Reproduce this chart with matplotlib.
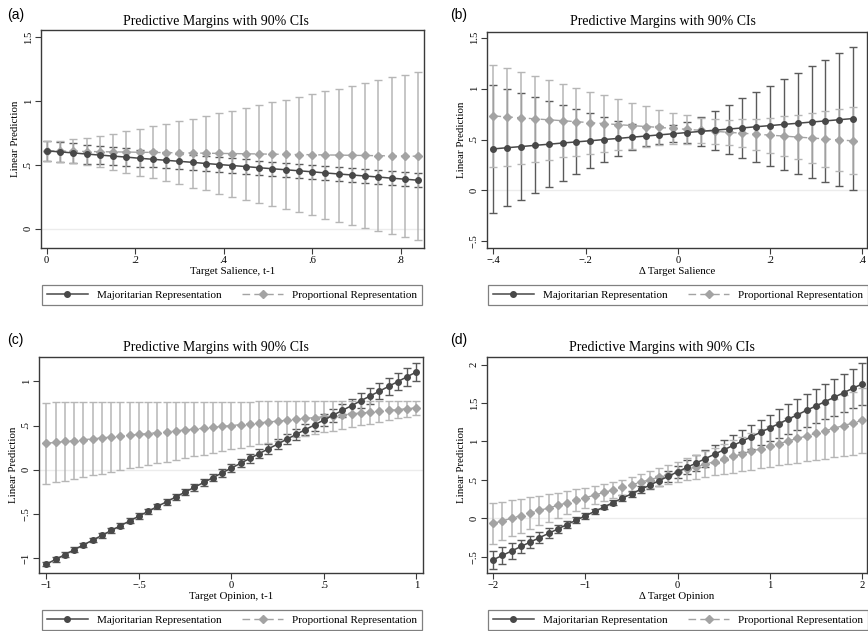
import matplotlib
matplotlib.use("Agg")
import matplotlib.pyplot as plt
from matplotlib.lines import Line2D

plt.rcParams['font.family'] = ['Liberation Serif', 'DejaVu Serif']

# ---------------- data ----------------
# (a) Target Salience, t-1
a_x = [0.00, 0.03, 0.06, 0.09, 0.12, 0.15, 0.18, 0.21, 0.24, 0.27, 0.30, 0.33, 0.36, 0.39, 0.42,
       0.45, 0.48, 0.51, 0.54, 0.57, 0.60, 0.63, 0.66, 0.69, 0.72, 0.75, 0.78, 0.81, 0.84]
a_maj = [0.610, 0.602, 0.594, 0.585, 0.577, 0.569, 0.561, 0.552, 0.544, 0.536, 0.528, 0.520, 0.511, 0.503, 0.495,
         0.487, 0.478, 0.470, 0.462, 0.454, 0.446, 0.437, 0.429, 0.421, 0.413, 0.405, 0.396, 0.388, 0.380]
a_maj_ci = [0.080, 0.078, 0.076, 0.074, 0.072, 0.070, 0.068, 0.066, 0.064, 0.062, 0.061, 0.060, 0.059, 0.058, 0.057,
            0.056, 0.055, 0.055, 0.054, 0.054, 0.054, 0.054, 0.054, 0.054, 0.055, 0.055, 0.055, 0.056, 0.056]
a_pr = [0.610, 0.608, 0.607, 0.605, 0.604, 0.602, 0.601, 0.599, 0.598, 0.596, 0.595, 0.593, 0.592, 0.590, 0.589,
        0.587, 0.586, 0.584, 0.583, 0.581, 0.580, 0.578, 0.577, 0.575, 0.574, 0.572, 0.571, 0.569, 0.568]
a_pr_ci = [0.080, 0.083, 0.093, 0.106, 0.123, 0.142, 0.162, 0.182, 0.204, 0.225, 0.247, 0.270, 0.292, 0.315, 0.337,
           0.360, 0.383, 0.406, 0.429, 0.452, 0.475, 0.498, 0.521, 0.544, 0.567, 0.590, 0.614, 0.637, 0.660]

# (b) Δ Target Salience
b_x = [-0.40, -0.37, -0.34, -0.31, -0.28, -0.25, -0.22, -0.19, -0.16, -0.13, -0.10, -0.07, -0.04, -0.01,
       0.02, 0.05, 0.08, 0.11, 0.14, 0.17, 0.20, 0.23, 0.26, 0.29, 0.32, 0.35, 0.38]
b_maj = [0.408, 0.420, 0.431, 0.443, 0.454, 0.466, 0.477, 0.488, 0.500, 0.511, 0.523, 0.534, 0.546, 0.557,
         0.569, 0.580, 0.592, 0.603, 0.614, 0.626, 0.637, 0.649, 0.660, 0.672, 0.683, 0.695, 0.706]
b_maj_ci = [0.625, 0.577, 0.525, 0.470, 0.420, 0.375, 0.320, 0.272, 0.225, 0.175, 0.130, 0.100, 0.088, 0.085,
            0.106, 0.146, 0.192, 0.241, 0.291, 0.342, 0.393, 0.445, 0.496, 0.548, 0.600, 0.652, 0.705]
b_pr = [0.732, 0.722, 0.713, 0.703, 0.694, 0.685, 0.675, 0.666, 0.656, 0.647, 0.637, 0.628, 0.619, 0.609,
        0.600, 0.590, 0.581, 0.571, 0.562, 0.553, 0.543, 0.534, 0.524, 0.515, 0.506, 0.496, 0.487]
b_pr_ci = [0.500, 0.480, 0.450, 0.420, 0.390, 0.360, 0.335, 0.305, 0.280, 0.250, 0.226, 0.200, 0.175, 0.150,
           0.140, 0.124, 0.120, 0.124, 0.135, 0.151, 0.171, 0.194, 0.219, 0.246, 0.273, 0.300, 0.329]

# (c) Target Opinion, t-1
c_x = [-1.00, -0.95, -0.90, -0.85, -0.80, -0.75, -0.70, -0.65, -0.60, -0.55, -0.50, -0.45, -0.40, -0.35,
       -0.30, -0.25, -0.20, -0.15, -0.10, -0.05, 0.00, 0.05, 0.10, 0.15, 0.20, 0.25, 0.30, 0.35, 0.40,
       0.45, 0.50, 0.55, 0.60, 0.65, 0.70, 0.75, 0.80, 0.85, 0.90, 0.95, 1.00]
c_maj = [-1.065, -1.011, -0.957, -0.902, -0.848, -0.794, -0.740, -0.685, -0.631, -0.577, -0.523, -0.468,
         -0.414, -0.360, -0.306, -0.251, -0.197, -0.143, -0.089, -0.034, 0.020, 0.074, 0.129, 0.183, 0.237,
         0.291, 0.346, 0.400, 0.454, 0.508, 0.563, 0.617, 0.671, 0.725, 0.780, 0.834, 0.888, 0.942, 0.997,
         1.051, 1.105]
c_maj_ci = [0.025, 0.025, 0.025, 0.026, 0.026, 0.026, 0.027, 0.028, 0.028, 0.029, 0.030, 0.031, 0.032, 0.034,
            0.035, 0.036, 0.038, 0.040, 0.041, 0.043, 0.045, 0.047, 0.049, 0.052, 0.054, 0.056, 0.059, 0.062,
            0.064, 0.067, 0.070, 0.073, 0.076, 0.080, 0.083, 0.086, 0.090, 0.094, 0.097, 0.101, 0.105]
c_pr = [0.30, 0.31, 0.32, 0.33, 0.34, 0.35, 0.36, 0.37, 0.38, 0.39, 0.40, 0.41, 0.42, 0.43, 0.44, 0.45,
        0.46, 0.47, 0.48, 0.49, 0.50, 0.51, 0.52, 0.53, 0.54, 0.55, 0.56, 0.57, 0.58, 0.59, 0.60, 0.61,
        0.62, 0.63, 0.64, 0.65, 0.66, 0.67, 0.68, 0.69, 0.70]
c_pr_ci = [0.460, 0.451, 0.441, 0.432, 0.422, 0.413, 0.403, 0.394, 0.384, 0.375, 0.365, 0.356, 0.346, 0.337,
           0.327, 0.318, 0.308, 0.299, 0.289, 0.280, 0.270, 0.261, 0.251, 0.242, 0.232, 0.223, 0.213, 0.204,
           0.194, 0.185, 0.175, 0.166, 0.156, 0.147, 0.137, 0.128, 0.118, 0.109, 0.099, 0.090, 0.080]

# (d) Δ Target Opinion
d_x = [-2.0, -1.9, -1.8, -1.7, -1.6, -1.5, -1.4, -1.3, -1.2, -1.1, -1.0, -0.9, -0.8, -0.7, -0.6, -0.5,
       -0.4, -0.3, -0.2, -0.1, 0.0, 0.1, 0.2, 0.3, 0.4, 0.5, 0.6, 0.7, 0.8, 0.9, 1.0, 1.1, 1.2, 1.3, 1.4,
       1.5, 1.6, 1.7, 1.8, 1.9, 2.0]
d_maj = [-0.539, -0.482, -0.425, -0.367, -0.310, -0.253, -0.196, -0.139, -0.081, -0.024, 0.033, 0.090,
         0.147, 0.205, 0.262, 0.319, 0.376, 0.433, 0.491, 0.548, 0.605, 0.662, 0.719, 0.777, 0.834, 0.891,
         0.948, 1.005, 1.063, 1.120, 1.177, 1.234, 1.291, 1.349, 1.406, 1.463, 1.520, 1.577, 1.635, 1.692, 1.749]
d_maj_ci = [0.118, 0.109, 0.100, 0.091, 0.082, 0.073, 0.064, 0.056, 0.048, 0.041, 0.036, 0.032, 0.030, 0.032,
            0.036, 0.041, 0.048, 0.056, 0.064, 0.073, 0.082, 0.091, 0.100, 0.109, 0.118, 0.127, 0.136, 0.146,
            0.155, 0.164, 0.174, 0.183, 0.192, 0.202, 0.211, 0.221, 0.230, 0.239, 0.249, 0.258, 0.268]
d_pr = [-0.066, -0.033, 0.001, 0.035, 0.068, 0.102, 0.135, 0.168, 0.202, 0.236, 0.269, 0.302, 0.336, 0.370,
        0.403, 0.436, 0.470, 0.504, 0.537, 0.570, 0.604, 0.638, 0.671, 0.704, 0.738, 0.772, 0.805, 0.838,
        0.872, 0.906, 0.939, 0.972, 1.006, 1.040, 1.073, 1.106, 1.140, 1.174, 1.207, 1.240, 1.274]
d_pr_ci = [0.266, 0.250, 0.235, 0.220, 0.206, 0.192, 0.178, 0.164, 0.152, 0.140, 0.129, 0.119, 0.111, 0.105,
           0.101, 0.100, 0.102, 0.106, 0.112, 0.121, 0.131, 0.142, 0.154, 0.167, 0.180, 0.195, 0.209, 0.224,
           0.238, 0.253, 0.268, 0.284, 0.299, 0.315, 0.331, 0.346, 0.362, 0.378, 0.394, 0.410, 0.426]

# tick labels
a_xticks = [0, 0.2, 0.4, 0.6, 0.8]
a_xlabels = ['0', '.2', '.4', '.6', '.8']
a_yticks = [0, 0.5, 1, 1.5]
a_ylabels = ['0', '.5', '1', '1.5']
b_xticks = [-0.4, -0.2, 0, 0.2, 0.4]
b_xlabels = ['\u2212.4', '\u2212.2', '0', '.2', '.4']
b_yticks = [-0.5, 0, 0.5, 1, 1.5]
b_ylabels = ['\u2212.5', '0', '.5', '1', '1.5']
c_xticks = [-1, -0.5, 0, 0.5, 1]
c_xlabels = ['\u22121', '\u2212.5', '0', '.5', '1']
c_yticks = [-1, -0.5, 0, 0.5, 1]
c_ylabels = ['\u22121', '\u2212.5', '0', '.5', '1']
d_xticks = [-2, -1, 0, 1, 2]
d_xlabels = ['\u22122', '\u22121', '0', '1', '2']
d_yticks = [-0.5, 0, 0.5, 1, 1.5, 2]
d_ylabels = ['\u2212.5', '0', '.5', '1', '1.5', '2']

TITLE = 'Predictive Margins with 90% CIs'
MAJ_LABEL = 'Majoritarian Representation'
PR_LABEL = 'Proportional Representation'

# ---------------- style ----------------
MAJ_COL = '#484848'
MAJ_CI = '#5a5a5a'
PR_COL = '#a3a3a3'
PR_CI = '#b6b6b6'
FRAME = '#3a3a3a'
DASH = (0, (5.5, 3))

W, H = 868, 631
fig = plt.figure(figsize=(W / 100, H / 100), dpi=100)


def px_axes(x0, x1, y0, y1):
    return fig.add_axes([x0 / W, 1 - y1 / H, (x1 - x0) / W, (y1 - y0) / H])


def panel(ax, x, maj, maj_ci, pr, pr_ci, xlim, ylim, xt, xl, yt, yl, xlabel):
    ax.axhline(0, color='#ececec', lw=1.0, zorder=0)
    ax.errorbar(x, maj, yerr=maj_ci, fmt='none', ecolor=MAJ_CI, elinewidth=1.0,
                capsize=2.7, capthick=1.0, zorder=2)
    ax.errorbar(x, pr, yerr=pr_ci, fmt='none', ecolor=PR_CI, elinewidth=1.1,
                capsize=2.7, capthick=1.0, zorder=2)
    ax.plot(x, maj, color=MAJ_COL, lw=1.1, marker='o', ms=4.0, mfc=MAJ_COL, mec=MAJ_COL, zorder=4)
    ax.plot(x, pr, color=PR_COL, lw=1.0, ls=DASH, marker='D', ms=4.0, mfc=PR_COL, mec=PR_COL, zorder=3)
    ax.set_xlim(*xlim)
    ax.set_ylim(*ylim)
    ax.set_xticks(xt)
    ax.set_xticklabels(xl)
    ax.set_yticks(yt)
    ax.set_yticklabels(yl, rotation=90, va='center')
    ax.tick_params(direction='out', length=4, width=0.8, color=FRAME, labelsize=7.6, pad=1.5)
    ax.tick_params(axis='y', pad=2)
    for s in ax.spines.values():
        s.set_color(FRAME)
        s.set_linewidth(1.0)
    ax.set_xlabel(xlabel, fontsize=7.8, labelpad=2)
    ax.set_ylabel('Linear Prediction', fontsize=7.8, labelpad=2.5)


def legend(ax, cx, cy):
    handles = [Line2D([], [], color=MAJ_COL, lw=1.1, marker='o', ms=4.0),
               Line2D([], [], color=PR_COL, lw=1.0, ls=DASH, marker='D', ms=4.0)]
    leg = ax.legend(handles, [MAJ_LABEL, PR_LABEL], loc='center', bbox_to_anchor=(cx / W, 1 - cy / H),
                    bbox_transform=fig.transFigure, ncol=2, fontsize=8, handlelength=3.7,
                    handletextpad=0.8, columnspacing=1.9, borderpad=0.45, fancybox=False,
                    framealpha=1, edgecolor='#808080', numpoints=1)
    leg.get_frame().set_linewidth(0.9)


axa = px_axes(41, 424, 30, 248)
panel(axa, a_x, a_maj, a_maj_ci, a_pr, a_pr_ci, (-0.013, 0.853), (-0.151, 1.557),
      a_xticks, a_xlabels, a_yticks, a_ylabels, 'Target Salience, t-1')
axb = px_axes(487, 867, 32, 248)
panel(axb, b_x, b_maj, b_maj_ci, b_pr, b_pr_ci, (-0.414, 0.41), (-0.565, 1.556),
      b_xticks, b_xlabels, b_yticks, b_ylabels, '\u0394 Target Salience')
axc = px_axes(39, 423, 357, 573)
panel(axc, c_x, c_maj, c_maj_ci, c_pr, c_pr_ci, (-1.04, 1.036), (-1.165, 1.274),
      c_xticks, c_xlabels, c_yticks, c_ylabels, 'Target Opinion, t-1')
axd = px_axes(487, 867, 357, 573)
panel(axd, d_x, d_maj, d_maj_ci, d_pr, d_pr_ci, (-2.068, 2.054), (-0.712, 2.1),
      d_xticks, d_xlabels, d_yticks, d_ylabels, '\u0394 Target Opinion')

legend(axa, 232, 295)
legend(axb, 678, 295)
legend(axc, 232, 620)
legend(axd, 678, 620)

# titles and panel letters
for tx, ty in [(216, 21), (663, 21), (216, 347), (662, 347)]:
    fig.text(tx / W, 1 - ty / H, TITLE, ha='center', va='center', fontsize=10)
for lab, lx, ly in [('(a)', 7, 15), ('(b)', 450, 15), ('(c)', 7, 340), ('(d)', 450, 340)]:
    fig.text(lx / W, 1 - ly / H, lab, ha='left', va='center', fontsize=10,
             family=['Liberation Sans', 'DejaVu Sans'])

fig.savefig('out.png', dpi=100)
